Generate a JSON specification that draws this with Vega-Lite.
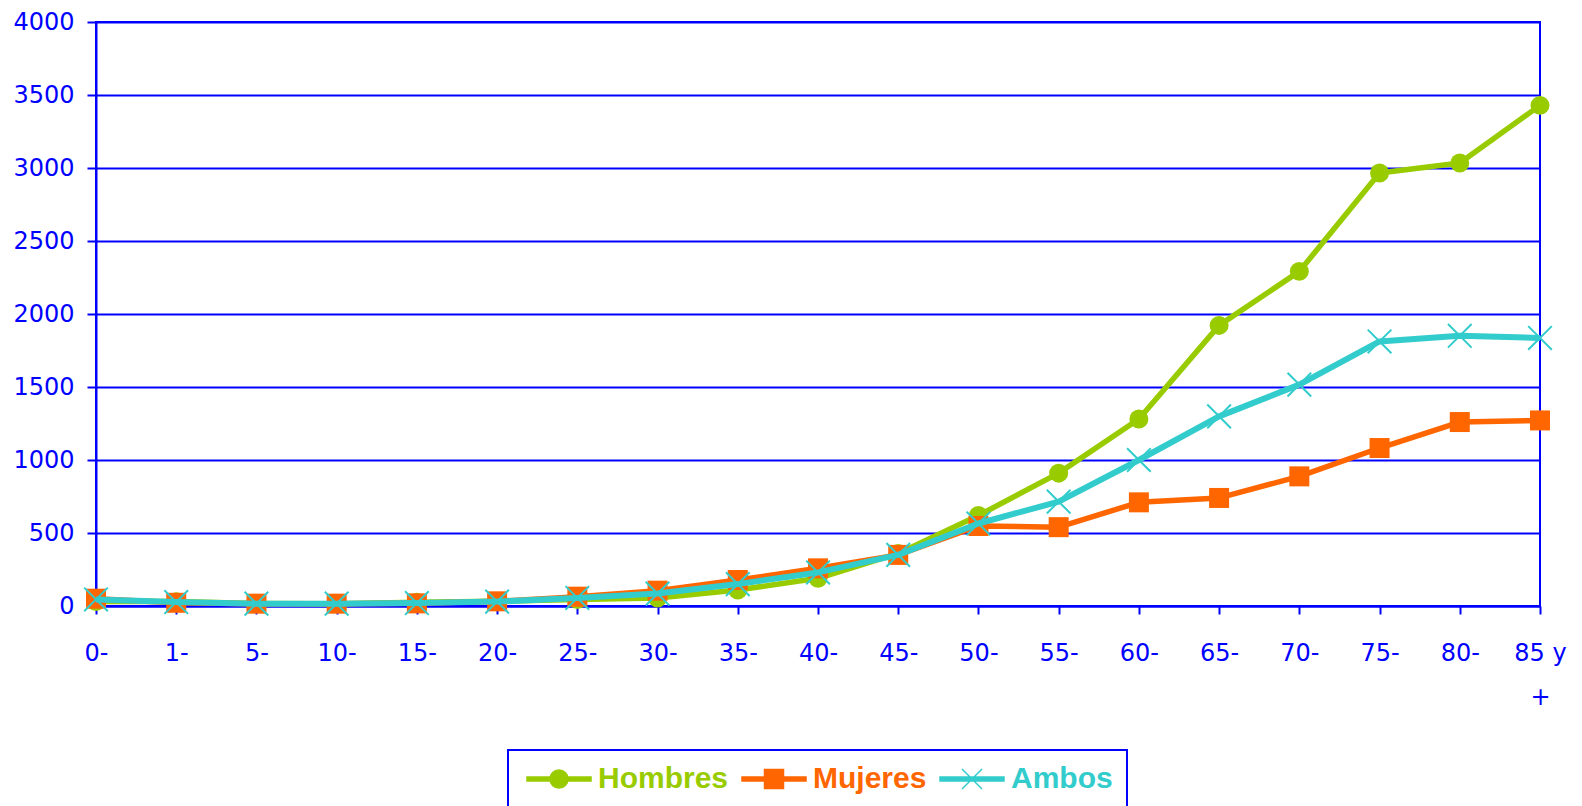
{
  "$schema": "https://vega.github.io/schema/vega-lite/v6.json",
  "width": 1444,
  "height": 584,
  "autosize": {"type": "none"},
  "padding": {"left": 96, "top": 22, "right": 42, "bottom": 200},
  "background": "white",
  "config": {
    "view": {"stroke": "#0000FF", "strokeWidth": 2}
  },
  "data": {
    "values": [
      {"edad": "0-", "serie": "Hombres", "valor": 30},
      {"edad": "1-", "serie": "Hombres", "valor": 30},
      {"edad": "5-", "serie": "Hombres", "valor": 17},
      {"edad": "10-", "serie": "Hombres", "valor": 16},
      {"edad": "15-", "serie": "Hombres", "valor": 25},
      {"edad": "20-", "serie": "Hombres", "valor": 32},
      {"edad": "25-", "serie": "Hombres", "valor": 45},
      {"edad": "30-", "serie": "Hombres", "valor": 55},
      {"edad": "35-", "serie": "Hombres", "valor": 110},
      {"edad": "40-", "serie": "Hombres", "valor": 190},
      {"edad": "45-", "serie": "Hombres", "valor": 360},
      {"edad": "50-", "serie": "Hombres", "valor": 620},
      {"edad": "55-", "serie": "Hombres", "valor": 910},
      {"edad": "60-", "serie": "Hombres", "valor": 1281},
      {"edad": "65-", "serie": "Hombres", "valor": 1922},
      {"edad": "70-", "serie": "Hombres", "valor": 2292},
      {"edad": "75-", "serie": "Hombres", "valor": 2966},
      {"edad": "80-", "serie": "Hombres", "valor": 3034},
      {"edad": "85 y +", "serie": "Hombres", "valor": 3429},
      {"edad": "0-", "serie": "Mujeres", "valor": 50},
      {"edad": "1-", "serie": "Mujeres", "valor": 22},
      {"edad": "5-", "serie": "Mujeres", "valor": 16},
      {"edad": "10-", "serie": "Mujeres", "valor": 16},
      {"edad": "15-", "serie": "Mujeres", "valor": 18},
      {"edad": "20-", "serie": "Mujeres", "valor": 32},
      {"edad": "25-", "serie": "Mujeres", "valor": 64},
      {"edad": "30-", "serie": "Mujeres", "valor": 105},
      {"edad": "35-", "serie": "Mujeres", "valor": 178},
      {"edad": "40-", "serie": "Mujeres", "valor": 258},
      {"edad": "45-", "serie": "Mujeres", "valor": 350},
      {"edad": "50-", "serie": "Mujeres", "valor": 548},
      {"edad": "55-", "serie": "Mujeres", "valor": 540},
      {"edad": "60-", "serie": "Mujeres", "valor": 710},
      {"edad": "65-", "serie": "Mujeres", "valor": 740},
      {"edad": "70-", "serie": "Mujeres", "valor": 888},
      {"edad": "75-", "serie": "Mujeres", "valor": 1082},
      {"edad": "80-", "serie": "Mujeres", "valor": 1260},
      {"edad": "85 y +", "serie": "Mujeres", "valor": 1271},
      {"edad": "0-", "serie": "Ambos", "valor": 45},
      {"edad": "1-", "serie": "Ambos", "valor": 27},
      {"edad": "5-", "serie": "Ambos", "valor": 16},
      {"edad": "10-", "serie": "Ambos", "valor": 16},
      {"edad": "15-", "serie": "Ambos", "valor": 20},
      {"edad": "20-", "serie": "Ambos", "valor": 30},
      {"edad": "25-", "serie": "Ambos", "valor": 55},
      {"edad": "30-", "serie": "Ambos", "valor": 85},
      {"edad": "35-", "serie": "Ambos", "valor": 150},
      {"edad": "40-", "serie": "Ambos", "valor": 230},
      {"edad": "45-", "serie": "Ambos", "valor": 350},
      {"edad": "50-", "serie": "Ambos", "valor": 565},
      {"edad": "55-", "serie": "Ambos", "valor": 715},
      {"edad": "60-", "serie": "Ambos", "valor": 1000},
      {"edad": "65-", "serie": "Ambos", "valor": 1299},
      {"edad": "70-", "serie": "Ambos", "valor": 1516},
      {"edad": "75-", "serie": "Ambos", "valor": 1812},
      {"edad": "80-", "serie": "Ambos", "valor": 1851},
      {"edad": "85 y +", "serie": "Ambos", "valor": 1836}
    ]
  },
  "encoding": {
    "x": {
      "field": "edad",
      "type": "ordinal",
      "sort": ["0-", "1-", "5-", "10-", "15-", "20-", "25-", "30-", "35-", "40-", "45-", "50-", "55-", "60-", "65-", "70-", "75-", "80-", "85 y +"],
      "scale": {"type": "point", "padding": 0},
      "axis": {
        "title": null,
        "labelAngle": 0,
        "grid": false,
        "tickSize": 8,
        "tickColor": "#0000FF",
        "tickWidth": 2,
        "domainColor": "#0000FF",
        "domainWidth": 2,
        "labelColor": "#0000FF",
        "labelFont": "DejaVu Sans",
        "labelFontSize": 24,
        "labelPadding": 27,
        "labelLineHeight": 44,
        "labelOverlap": false,
        "labelExpr": "datum.value === '85 y +' ? ['85 y', '+'] : datum.label"
      }
    },
    "y": {
      "field": "valor",
      "type": "quantitative",
      "scale": {"domain": [0, 4000], "nice": false},
      "axis": {
        "title": null,
        "format": "d",
        "values": [0, 500, 1000, 1500, 2000, 2500, 3000, 3500, 4000],
        "grid": true,
        "gridColor": "#0000FF",
        "gridWidth": 2,
        "gridOpacity": 1,
        "tickSize": 9,
        "tickColor": "#0000FF",
        "tickWidth": 2,
        "domainColor": "#0000FF",
        "domainWidth": 2,
        "labelColor": "#0000FF",
        "labelFont": "DejaVu Sans",
        "labelFontSize": 24,
        "labelPadding": 13
      }
    },
    "color": {
      "field": "serie",
      "type": "nominal",
      "sort": ["Hombres", "Mujeres", "Ambos"],
      "scale": {"domain": ["Hombres", "Mujeres", "Ambos"], "range": ["#99CC00", "#FF6600", "#33CCCC"]},
      "legend": {
        "title": null,
        "orient": "none",
        "legendX": 412,
        "legendY": 728,
        "direction": "horizontal",
        "strokeColor": "#0000FF",
        "padding": 14,
        "columnPadding": 8,
        "symbolSize": 400,
        "labelOffset": 46,
        "labelFont": "Liberation Sans",
        "labelFontWeight": "bold",
        "labelFontSize": 30,
        "labelLimit": 0,
        "encode": {
          "legend": {
            "update": {
              "strokeWidth": {"value": 2}
            }
          },
          "symbols": {
            "update": {
              "shape": {"signal": "datum.value === 'Hombres' ? 'M-1,-0.2H5.4V0.2H-1Z M1.3,0A0.9,0.9 0 1,1 3.1,0A0.9,0.9 0 1,1 1.3,0Z' : datum.value === 'Mujeres' ? 'M-1,-0.2H5.4V0.2H-1Z M1.25,-0.95H3.15V0.95H1.25Z' : 'M-1,-0.2H5.4V0.2H-1Z M1.2,-1L3.2,1M1.2,1L3.2,-1'"},
              "fill": {"scale": "color", "field": "value"},
              "stroke": {"scale": "color", "field": "value"},
              "strokeWidth": {"value": 1.5},
              "opacity": {"value": 1}
            }
          },
          "labels": {
            "update": {
              "fill": {"scale": "color", "field": "value"}
            }
          }
        }
      }
    }
  },
  "layer": [
    {
      "transform": [{"filter": "datum.serie === 'Hombres'"}],
      "mark": {"type": "line", "strokeWidth": 5.5, "strokeJoin": "round"}
    },
    {
      "transform": [{"filter": "datum.serie === 'Hombres'"}],
      "mark": {"type": "point", "shape": "circle", "filled": true, "opacity": 1, "size": 360}
    },
    {
      "transform": [{"filter": "datum.serie === 'Mujeres'"}],
      "mark": {"type": "line", "strokeWidth": 5.5, "strokeJoin": "round"}
    },
    {
      "transform": [{"filter": "datum.serie === 'Mujeres'"}],
      "mark": {"type": "point", "shape": "square", "filled": true, "opacity": 1, "size": 400}
    },
    {
      "transform": [{"filter": "datum.serie === 'Ambos'"}],
      "mark": {"type": "line", "strokeWidth": 6, "strokeJoin": "round"}
    },
    {
      "transform": [{"filter": "datum.serie === 'Ambos'"}],
      "mark": {"type": "point", "shape": "M-1,-1L1,1M-1,1L1,-1", "filled": false, "opacity": 1, "size": 560, "strokeWidth": 2}
    }
  ]
}
